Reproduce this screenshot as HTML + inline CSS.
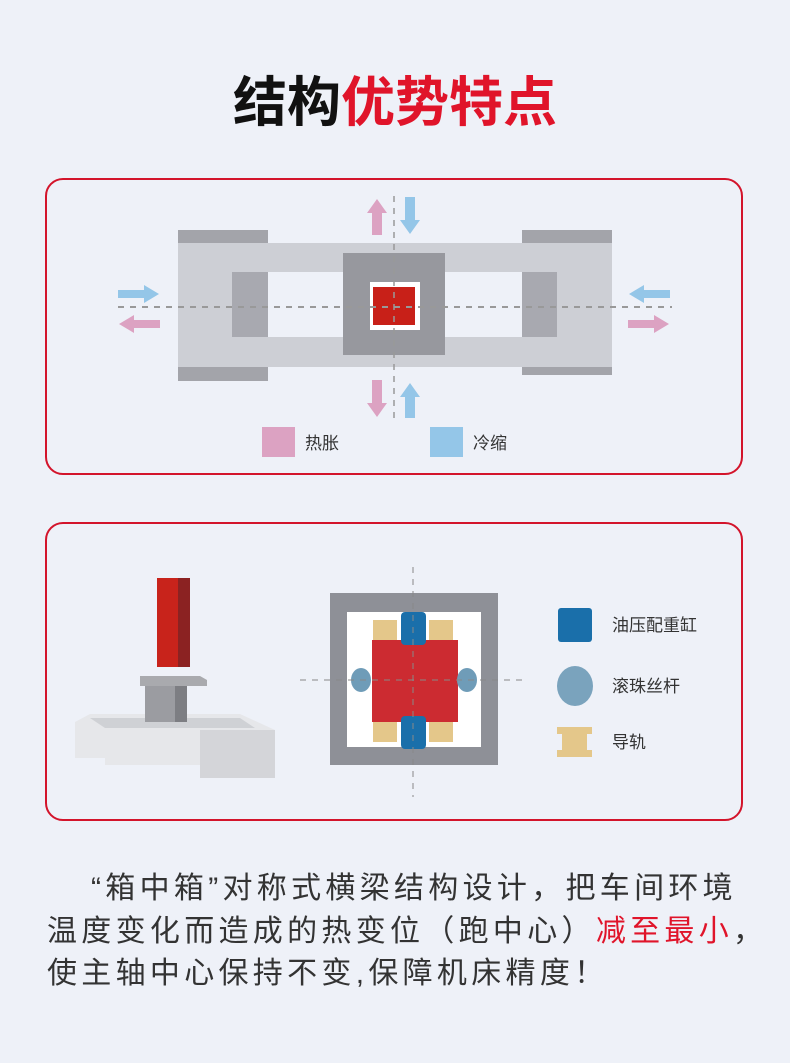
<!DOCTYPE html>
<html><head><meta charset="utf-8"><style>
body{margin:0;width:790px;height:1063px;background:#eef1f8;position:relative;overflow:hidden;font-family:"Liberation Sans","Noto Sans CJK SC",sans-serif}
.t{position:absolute;left:0;width:790px;top:68px;text-align:center;font-size:54px;font-weight:bold;line-height:70px;color:#111}
.card{position:absolute;left:45px;width:698px;border:2px solid #d3142b;border-radius:18px;box-sizing:border-box}
.p{position:absolute;left:47px;top:868px;width:760px;font-size:30px;line-height:42.5px;color:#333;letter-spacing:4.3px;white-space:nowrap}
</style></head><body>
<div class="t">结构<span style="color:#e0142a">优势特点</span></div>
<div class="card" style="top:178px;height:297px"></div>
<div class="card" style="top:522px;height:299px"></div>
<svg width="790" height="1063" style="position:absolute;left:0;top:0">
<rect x="178" y="230" width="90" height="14" fill="#a3a4aa"/>
<rect x="522" y="230" width="90" height="14" fill="#a3a4aa"/>
<rect x="178" y="366" width="90" height="15" fill="#a3a4aa"/>
<rect x="522" y="366" width="90" height="9" fill="#a3a4aa"/>
<rect x="178" y="243" width="434" height="124" fill="#cdcfd5"/>
<rect x="232" y="272" width="290" height="65" fill="#eef1f8"/>
<rect x="232" y="272" width="36" height="65" fill="#a8a9b0"/>
<rect x="522" y="272" width="35" height="65" fill="#a8a9b0"/>
<rect x="343" y="253" width="102" height="102" fill="#97989e"/>
<rect x="370" y="282" width="50" height="48" fill="#fff"/>
<rect x="373" y="287" width="42" height="38" fill="#c82018"/>
<line x1="118" y1="307" x2="672" y2="307" stroke="#999" stroke-width="2" stroke-dasharray="6,6"/>
<line x1="394" y1="196" x2="394" y2="418" stroke="#999" stroke-width="1.5" stroke-dasharray="6,6"/>
<g fill="#dca2c2">
<polygon points="372,235 382,235 382,213 387,213 377,199 367,213 372,213"/>
<polygon points="372,380 382,380 382,403 387,403 377,417 367,403 372,403"/>
<polygon points="160,320 160,328 134,328 134,333 119,324 134,315 134,320"/>
<polygon points="628,320 628,328 654,328 654,333 669,324 654,315 654,320"/>
<rect x="262" y="427" width="33" height="30"/>
</g>
<g fill="#94c6e8">
<polygon points="405,197 415,197 415,220 420,220 410,234 400,220 405,220"/>
<polygon points="405,418 415,418 415,397 420,397 410,383 400,397 405,397"/>
<polygon points="118,290 118,298 144,298 144,303 159,294 144,285 144,290"/>
<polygon points="670,290 670,298 644,298 644,303 629,294 644,285 644,290"/>
<rect x="430" y="427" width="33" height="30"/>
</g>
<text x="305" y="449" font-size="17" fill="#333">热胀</text>
<text x="473" y="449" font-size="17" fill="#333">冷缩</text>
<polygon points="75,722 90,714 240,714 275,730 275,778 200,778 200,765 105,765 105,758 75,758" fill="#e6e7ea"/>
<polygon points="200,730 275,730 275,778 200,778" fill="#d4d5d9"/>
<polygon points="90,718 240,718 255,728 105,728" fill="#cfd1d5"/>
<rect x="145" y="684" width="30" height="38" fill="#9b9ca1"/>
<rect x="175" y="684" width="12" height="38" fill="#7d7e83"/>
<polygon points="140,676 200,676 207,680 207,686 140,686" fill="#a9aaae"/>
<rect x="157" y="578" width="21" height="89" fill="#c8231b"/>
<rect x="178" y="578" width="12" height="89" fill="#8b2222"/>
<rect x="330" y="593" width="168" height="172" fill="#8e9097"/>
<rect x="347" y="612" width="134" height="135" fill="#fff"/>
<g fill="#e4c78a">
<rect x="373" y="620" width="24" height="20"/><rect x="429" y="620" width="24" height="20"/>
<rect x="373" y="722" width="24" height="20"/><rect x="429" y="722" width="24" height="20"/>
</g>
<rect x="372" y="640" width="86" height="82" fill="#cc2b31"/>
<rect x="401" y="612" width="25" height="33" rx="4" fill="#1a6faa"/>
<rect x="401" y="716" width="25" height="33" rx="4" fill="#1a6faa"/>
<ellipse cx="361" cy="680" rx="10" ry="12" fill="#6f9cb8"/>
<ellipse cx="467" cy="680" rx="10" ry="12" fill="#6f9cb8"/>
<line x1="413" y1="567" x2="413" y2="797" stroke="#888" stroke-dasharray="6,6"/>
<line x1="300" y1="680" x2="528" y2="680" stroke="#888" stroke-dasharray="6,6"/>
<rect x="558" y="608" width="34" height="34" rx="3" fill="#1a6faa"/>
<ellipse cx="575" cy="686" rx="18" ry="20" fill="#7aa3bd"/>
<path d="M557,727h35v7h-5v16h5v7h-35v-7h5v-16h-5z" fill="#e4c78a"/>
<text x="612" y="631" font-size="17" fill="#333">油压配重缸</text>
<text x="612" y="692" font-size="17" fill="#333">滚珠丝杆</text>
<text x="612" y="748" font-size="17" fill="#333">导轨</text>
</svg>
<div class="p"><span style="padding-left:44px"></span>“箱中箱”对称式横梁结构设计，把车间环境<br>温度变化而造成的热变位（跑中心）<span style="color:#e0142a">减至最小</span>，<br>使主轴中心保持不变,保障机床精度！</div>
</body></html>
